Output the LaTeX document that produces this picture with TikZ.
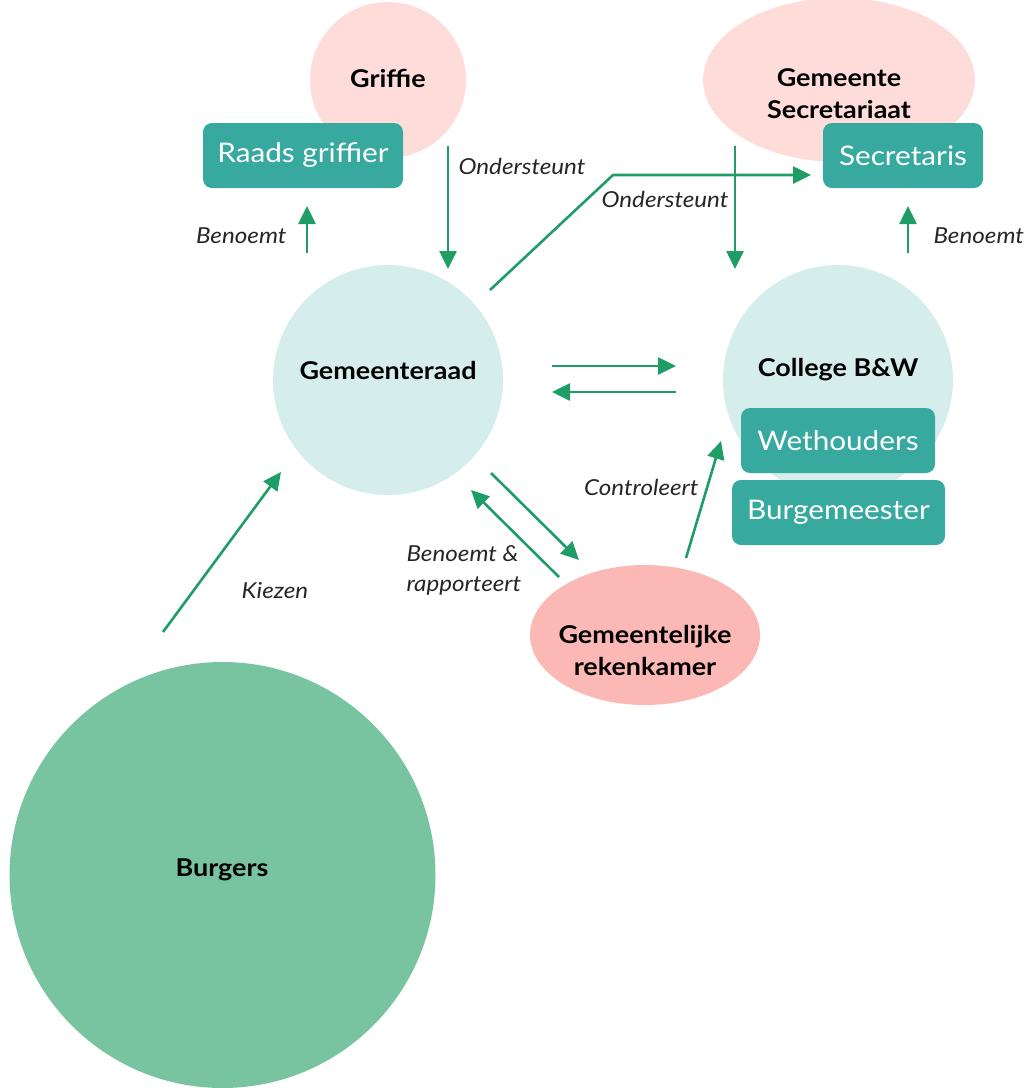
\documentclass[tikz,border=0pt]{standalone}
\usepackage{fontspec}
\setmainfont{Lato}[FakeStretch=1.1]
\usetikzlibrary{arrows.meta,shapes.geometric}
\definecolor{lteal}{HTML}{D5EEEB}
\definecolor{lpink}{HTML}{FDDCDA}
\definecolor{mpink}{HTML}{FBB8B5}
\definecolor{burg}{HTML}{78C4A0}
\definecolor{boxc}{HTML}{38A99F}
\definecolor{arr}{HTML}{1F9D67}
\tikzset{
  blob/.style={circle, inner sep=0pt},
  rolebox/.style={rectangle, rounded corners=9pt, fill=boxc, text=white, inner sep=0pt, font=\fontsize{27}{30}\selectfont},
  title/.style={font=\bfseries\fontsize{24.5}{32}\selectfont, align=center, text=black},
  lab/.style={font=\itshape\fontsize{22}{30}\selectfont, text=black!85},
  conn/.style={draw=arr, line width=2.6pt, -{Triangle[length=18pt,width=17pt]}},
}
\begin{document}
\begin{tikzpicture}[x=1pt,y=-1pt]
\useasboundingbox (0,0) rectangle (1028,1088);
% shapes
\node[blob, fill=lpink, minimum size=156pt] (griffie) at (388,80) {};
\node[ellipse, fill=lpink, inner sep=0pt, minimum width=272pt, minimum height=164pt] (secr) at (839,80) {};
\node[rolebox, minimum width=200pt, minimum height=65pt] (rg) at (303,155.5) {Raads griffier};
\node[rolebox, minimum width=160pt, minimum height=65pt] (sec) at (903,155.5) {Secretaris};
\node[blob, fill=lteal, minimum size=230pt] (raad) at (388,380) {};
\node[blob, fill=lteal, minimum size=230pt] (coll) at (838,380) {};
\node[rolebox, minimum width=194pt, minimum height=65pt] (weth) at (838,440.5) {Wethouders};
\node[rolebox, minimum width=213pt, minimum height=65pt] (burgm) at (838.5,512.5) {Burgemeester};
\node[ellipse, fill=mpink, inner sep=0pt, minimum width=230pt, minimum height=140pt] (rek) at (645,635) {};
\node[blob, fill=burg, minimum size=426pt] (burgers) at (222.5,875) {};
% titles
\node[title] (tgriffie) at (388,78) {Griffie};
\node[title] (tsecr) at (839,94) {Gemeente\\Secretariaat};
\node[title] (traad) at (388,370) {Gemeenteraad};
\node[title] (tcoll) at (838,370) {College B\&W};
\node[title] (trek) at (645,650) {Gemeentelijke\\rekenkamer};
\node[title] (tburg) at (222,870) {Burgers};
% connector end points
\coordinate (a1s) at (307,253); \coordinate (a1e) at (307,206);
\coordinate (a2s) at (448,146); \coordinate (a2e) at (448,269);
\coordinate (a3s) at (490,290); \coordinate (a3m) at (613,175); \coordinate (a3e) at (811,175);
\coordinate (a4s) at (735,146); \coordinate (a4e) at (735,269);
\coordinate (a5s) at (908,253); \coordinate (a5e) at (908,206);
\coordinate (h1s) at (552,366); \coordinate (h1e) at (676,366);
\coordinate (h2s) at (676,392); \coordinate (h2e) at (552,392);
\coordinate (ks) at (163,632); \coordinate (ke) at (281,472);
\coordinate (r1s) at (491,473); \coordinate (r1e) at (579,560);
\coordinate (r2s) at (559,577); \coordinate (r2e) at (471,490);
\coordinate (cs) at (686,558); \coordinate (ce) at (721,441);
% connectors
\draw[conn] (a1s) -- (a1e);
\draw[conn] (a2s) -- (a2e);
\draw[conn] (a3s) -- (a3m) -- (a3e);
\draw[conn] (a4s) -- (a4e);
\draw[conn] (a5s) -- (a5e);
\draw[conn] (h1s) -- (h1e);
\draw[conn] (h2s) -- (h2e);
\draw[conn] (ks) -- (ke);
\draw[conn] (r1s) -- (r1e);
\draw[conn] (r2s) -- (r2e);
\draw[conn] (cs) -- (ce);
% labels
\node[lab, anchor=east] (l1) at (290,236) {Benoemt};
\node[lab, anchor=west] (l2) at (455,166) {Ondersteunt};
\node[lab, anchor=west] (l3) at (598,199) {Ondersteunt};
\node[lab, anchor=west] (l4) at (930,236) {Benoemt};
\node[lab] (l5) at (275,591) {Kiezen};
\node[lab, anchor=west, align=left] (l6) at (403,570) {Benoemt \&\\rapporteert};
\node[lab, anchor=east] (l7) at (702,487) {Controleert};
\end{tikzpicture}
\end{document}
